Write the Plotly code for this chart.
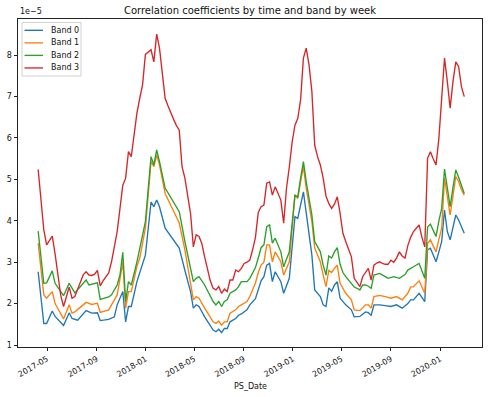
import numpy as np
import pandas as pd
import plotly.graph_objects as go

START = "2017-04-09"   # first weekly sample
SCALE = 1e-5

BAND0_WEEKS = [0, 2, 3, 5, 6, 9, 11, 12, 14, 17, 19, 21, 22, 25, 27, 28, 30, 31, 32, 33, 35, 38, 40, 41, 42, 43, 45, 47, 50, 52,
               54, 55, 56, 57, 59, 62, 63, 64, 65, 66, 67, 68, 70, 71, 72, 74, 75, 77, 78, 79, 80, 81, 82, 83, 84, 86, 87, 89,
               91, 92, 94, 95, 97, 98, 100, 101, 102, 103, 104, 105, 106, 107, 109, 111, 112, 114, 116, 117, 118, 119, 121,
               123, 125, 127, 129, 131, 132, 133, 135, 137, 138, 139, 140, 141, 142, 143, 144, 145, 146, 147, 148, 149, 150, 151]
BAND0_VALUES = [2.77, 1.52, 1.52, 1.82, 1.69, 1.47, 1.78, 1.64, 1.60, 1.83, 1.77, 1.78, 1.59, 1.62, 1.68, 1.97, 2.29, 1.56, 1.93, 1.93,
                2.53, 3.17, 4.45, 4.34, 4.50, 4.34, 3.82, 3.62, 3.34, 2.80,
                2.29, 1.89, 1.97, 1.93, 1.68, 1.36, 1.32, 1.38, 1.30, 1.40, 1.40, 1.56, 1.64, 1.72, 1.75, 1.85, 1.97, 2.12, 2.35,
                2.55, 2.65, 2.93, 2.97, 2.53, 2.77, 2.53, 2.25, 2.61,
                4.10, 4.06, 4.70, 4.14, 3.17, 2.33, 2.17, 1.97, 1.93, 2.38, 2.30, 2.45, 2.53, 2.13, 1.97, 1.85, 1.68, 1.69, 1.80,
                1.78, 1.72, 1.97, 1.97,
                1.95, 1.93, 1.97, 1.89, 2.00, 2.09, 2.09, 2.25, 2.05, 3.30, 3.34, 3.15, 3.01, 3.25, 3.50, 4.26, 3.74, 3.54, 3.85,
                4.14, 4.02, 3.88, 3.70]

BAND1_WEEKS = [0, 2, 3, 5, 6, 9, 11, 12, 13, 17, 19, 21, 22, 25, 26, 28, 29, 30, 31, 32, 33, 35, 36, 38, 40, 41, 42, 43, 45, 47,
               50, 52, 54, 55, 56, 57, 59, 62, 63, 64, 65, 66, 67, 68, 70, 71, 72, 74, 75, 77, 78, 79, 80, 81, 82, 83, 84, 86,
               87, 89, 91, 92, 93, 94, 95, 97, 98, 100, 101, 102, 103, 104, 105, 106, 107, 109, 111, 112, 114, 116, 117, 118,
               119, 121, 123, 125, 127, 129, 131, 132, 133, 135, 137, 138, 139, 140, 141, 142, 143, 144, 145, 146, 147, 148,
               149, 150, 151]
BAND1_VALUES = [3.46, 2.21, 2.13, 2.29, 2.00, 1.63, 1.97, 1.77, 1.80, 2.03, 1.98, 2.01, 1.79, 1.85, 1.97, 2.21, 2.60, 3.00, 1.89,
                2.29, 2.29, 2.90, 3.10, 3.82, 5.43, 5.31, 5.59, 5.35, 4.66, 4.38,
                3.95, 3.30, 2.53, 2.09, 2.17, 2.13, 1.89, 1.56, 1.52, 1.58, 1.48, 1.56, 1.56, 1.77, 1.85, 1.93, 1.97, 2.05, 2.17,
                2.50, 2.75, 2.93, 3.00, 3.42, 3.42, 3.01, 3.25, 3.01,
                2.69, 3.01, 4.62, 4.54, 4.94, 5.31, 4.78, 3.98, 3.34, 3.01, 2.69, 2.41, 2.80, 2.75, 2.85, 2.93, 2.49, 2.25, 2.09,
                1.85, 1.83, 1.97, 1.97, 1.89,
                2.17, 2.20, 2.17, 2.13, 2.17, 2.09, 2.25, 2.40, 2.41, 2.55, 2.25, 3.45, 3.54, 3.40, 3.25, 3.55, 3.82, 5.03, 4.60,
                4.14, 4.60, 5.07,
                4.95, 4.75, 4.62]

BAND2_WEEKS = [0, 2, 3, 5, 6, 9, 11, 13, 17, 18, 21, 22, 25, 26, 28, 29, 30, 31, 32, 33, 35, 38, 40, 41, 42, 43, 45, 47, 50, 52,
               54, 55, 56, 57, 59, 62, 63, 64, 65, 66, 67, 68, 70, 71, 72, 74, 75, 77, 78, 79, 80, 81, 82, 83, 84, 86, 87, 89,
               91, 92, 93, 94, 95, 97, 98, 100, 101, 102, 103, 104, 105, 106, 107, 108, 109, 110, 111, 112, 113, 114, 115, 116,
               117, 118, 119, 121, 123, 124, 126, 128, 130, 131, 133, 135, 137, 138, 139, 140, 141, 142, 143, 144, 145, 146,
               147, 148, 149, 150, 151]
BAND2_VALUES = [3.75, 2.49, 2.50, 2.79, 2.49, 2.19, 2.49, 2.26, 2.57, 2.45, 2.50, 2.10, 2.16, 2.21, 2.45, 2.69, 3.24, 2.05, 2.53,
                2.45, 3.01, 3.98, 5.55, 5.35, 5.71, 5.43, 4.79, 4.55, 4.22, 3.50,
                2.89, 2.53, 2.61, 2.65, 2.45, 2.05, 1.97, 2.05, 1.93, 2.05, 2.09, 2.25, 2.33, 2.41, 2.53, 2.53, 2.61, 2.87, 3.10,
                3.35, 3.42, 3.86, 3.90, 3.46, 3.58, 3.25, 2.89, 3.25,
                4.62, 4.58, 5.03, 5.43, 4.94, 4.14, 3.50, 3.25, 2.93, 2.69, 3.15, 3.10, 3.25, 3.35, 2.95, 2.75, 2.65, 2.57, 2.50,
                2.40, 2.37, 2.33, 2.45, 2.45,
                2.42, 2.37, 2.69, 2.73, 2.65, 2.61, 2.65, 2.61, 2.70, 2.81, 2.89, 2.97, 2.61, 3.85, 3.92, 3.75, 3.62, 4.00, 4.30,
                5.25, 4.80, 4.34,
                4.80, 5.23, 5.05, 4.85, 4.66]

BAND3_WEEKS = [w for w in range(0, 152) if w not in (1, 4)]
BAND3_VALUES = [5.24, 3.78, 3.42, 3.63, 3.20, 2.70, 2.20, 1.93, 2.17, 2.40, 2.13, 2.17, 2.35, 2.55, 2.70, 2.77, 2.69, 2.68,
                2.71, 2.80, 2.43, 2.55, 2.65, 2.74, 3.01, 3.40, 3.74, 4.30, 4.86, 5.03, 5.67, 5.55, 6.15, 6.60, 6.96, 7.28,
                8.02, 8.08, 8.13, 7.84, 8.51, 8.17, 7.60, 6.96, 6.78, 6.60, 6.45, 6.30, 6.19, 5.30, 5.03, 4.60, 4.18, 3.37,
                3.66, 3.62, 3.45, 3.13, 2.85, 2.55, 2.37, 2.33, 2.41, 2.25, 2.35, 2.29, 2.57, 2.57, 2.81, 2.77, 2.85, 2.97,
                3.00, 3.05, 3.30, 3.60, 4.20, 4.34, 4.38, 4.91, 4.94, 4.62, 4.82, 4.65, 4.50, 3.94, 4.78, 5.30, 5.90, 6.31,
                6.47, 6.92, 7.93, 8.17, 7.76, 7.12, 5.83, 5.55, 5.35, 5.03, 4.60, 4.42, 4.30, 4.40, 4.58, 4.18, 3.70, 3.50,
                3.29, 3.13, 2.61, 2.50, 2.41, 2.65, 2.75, 2.85, 2.57, 2.93, 2.98, 3.01, 2.97, 2.95, 2.95, 3.05, 3.00, 3.10,
                3.25, 3.15, 3.10, 3.40, 3.60, 3.74, 3.82, 3.90, 3.60, 3.37, 5.51, 5.67, 5.50, 5.35, 5.99, 6.96, 7.93, 7.36,
                6.72, 7.36, 7.84, 7.72, 7.24, 7.00]

SERIES_NAMES = ["Band 0", "Band 1", "Band 2", "Band 3"]
COLORS = ["#1f77b4", "#ff7f0e", "#2ca02c", "#d62728"]

X_TICKS = ["2017-05-01", "2017-09-01", "2018-01-01", "2018-05-01", "2018-09-01",
           "2019-01-01", "2019-05-01", "2019-09-01", "2020-01-01"]
Y_TICKS = [1, 2, 3, 4, 5, 6, 7, 8]

FONT = "DejaVu Sans"
W, H = 491, 397
ML, MR, MT, MB = 18, 9, 19, 50
PW, PH = W - ML - MR, H - MT - MB


def px_x(px):
    return (px - ML) / PW


def px_y(py):
    return 1 - (py - MT) / PH


fig = go.Figure()
series = [(BAND0_WEEKS, BAND0_VALUES), (BAND1_WEEKS, BAND1_VALUES),
          (BAND2_WEEKS, BAND2_VALUES), (BAND3_WEEKS, BAND3_VALUES)]
for name, (weeks, vals), color in zip(SERIES_NAMES, series, COLORS):
    x = pd.Timestamp(START) + pd.to_timedelta(np.array(weeks) * 7, unit="D")
    fig.add_trace(go.Scatter(x=x, y=np.array(vals) * SCALE, mode="lines", name=name,
                             line=dict(color=color, width=1.35), showlegend=False))

axis_common = dict(showline=True, mirror=True, linecolor="#222", linewidth=0.9,
                   ticks="outside", ticklen=3.5, tickwidth=0.8, tickcolor="#222",
                   showgrid=False, zeroline=False, automargin=False,
                   tickfont=dict(family=FONT, size=8, color="#111"))

# matplotlib-style legend box (compact rows)
shapes = [dict(type="rect", xref="paper", yref="paper",
               x0=px_x(22), x1=px_x(81), y0=px_y(76), y1=px_y(22.5),
               line=dict(color="#d0d0d0", width=1), fillcolor="rgba(255,255,255,0.85)", layer="above")]
annotations = []
for i, (name, color) in enumerate(zip(SERIES_NAMES, COLORS)):
    yy = 30.3 + i * 12.55
    shapes.append(dict(type="line", xref="paper", yref="paper", x0=px_x(24.5), x1=px_x(43),
                       y0=px_y(yy), y1=px_y(yy), line=dict(color=color, width=1.35), layer="above"))
    annotations.append(dict(text=name, x=px_x(48.5), y=px_y(yy), xref="paper", yref="paper",
                            xanchor="left", yanchor="middle", showarrow=False,
                            font=dict(family=FONT, size=8, color="#111")))

annotations += [
    dict(text="1e\u22125", x=0, y=1, xref="paper", yref="paper", xanchor="left",
         yanchor="bottom", yshift=1, showarrow=False,
         font=dict(family=FONT, size=8, color="#111")),
    dict(text="PS_Date", x=0.5, y=px_y(386), xref="paper", yref="paper", xanchor="center",
         yanchor="middle", showarrow=False, font=dict(family=FONT, size=8, color="#111")),
]

fig.update_layout(
    width=W, height=H,
    margin=dict(l=ML, r=MR, t=MT, b=MB),
    paper_bgcolor="white", plot_bgcolor="white",
    showlegend=False,
    title=dict(text="Correlation coefficients by time and band by week",
               x=0.5, xref="paper", y=1 - 10 / H, yref="container", yanchor="middle",
               font=dict(family=FONT, size=10, color="#111")),
    xaxis=dict(range=["2017-02-18", "2020-04-14"], tickvals=X_TICKS, tickformat="%Y-%m",
               tickangle=-30, **axis_common),
    yaxis=dict(range=[0.952 * SCALE, 8.874 * SCALE], tickvals=[v * SCALE for v in Y_TICKS],
               ticktext=[str(v) for v in Y_TICKS], **axis_common),
    shapes=shapes,
    annotations=annotations,
)

fig.write_html("out.html", config={"displayModeBar": False},
               post_script="document.body.style.margin='0';document.body.style.overflow='hidden';")
